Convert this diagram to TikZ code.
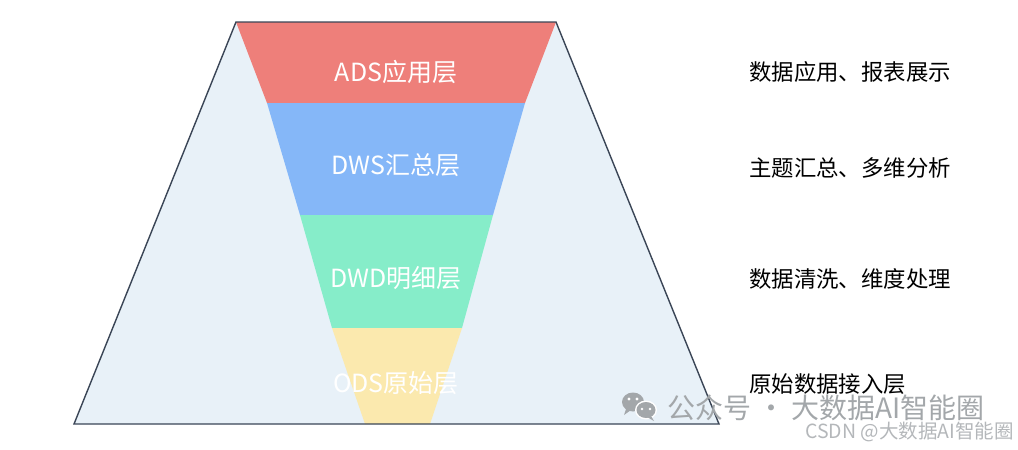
\documentclass[tikz,border=0pt]{standalone}
\usepackage{fontspec}
\setmainfont{Noto Sans CJK SC}
\newfontfamily\cjk{Noto Sans CJK SC}
\definecolor{outerfill}{HTML}{E8F1F8}
\definecolor{outerline}{HTML}{3A4556}
\definecolor{adsred}{HTML}{EE7F7A}
\definecolor{dwsblue}{HTML}{85B7F8}
\definecolor{dwdgreen}{HTML}{86EDC9}
\definecolor{odsyellow}{HTML}{FBE9AE}
\definecolor{wmgray}{HTML}{A3A7AA}
\definecolor{wmgray2}{HTML}{B4B7BA}
\tikzset{
  layerlabel/.style={text=white, font=\cjk\fontsize{25}{28}\selectfont, inner sep=0pt, anchor=center},
  desc/.style={text=black, font=\cjk\fontsize{22.4}{26}\selectfont, inner sep=0pt, anchor=west},
  wm/.style={text=wmgray, font=\cjk\fontsize{28}{31}\selectfont, inner sep=0pt, anchor=west},
  wmsmall/.style={text=wmgray2, font=\cjk\fontsize{19.5}{22}\selectfont, inner sep=0pt, anchor=east},
}
\begin{document}
\begin{tikzpicture}[x=1pt,y=-1pt]
\useasboundingbox (0,0) rectangle (1018,450);
% outer trapezoid
\fill[outerfill] (236,22) -- (556,22) -- (719,424) -- (74,424) -- cycle;
% funnel layers
\fill[adsred]    (236,22)  -- (556,22)  -- (525,103) -- (267,103) -- cycle;
\fill[dwsblue]   (267,103) -- (525,103) -- (493,215) -- (300,215) -- cycle;
\fill[dwdgreen]  (300,215) -- (493,215) -- (462,328) -- (332,328) -- cycle;
\fill[odsyellow] (332,328) -- (462,328) -- (430,424) -- (365,424) -- cycle;
% outline
\draw[outerline, line width=1.4pt, line join=miter] (236,22) -- (556,22) -- (719,424) -- (74,424) -- cycle;
% labels
\node[layerlabel] (ads) at (396,72) {ADS应用层};
\node[layerlabel] (dws) at (396,165) {DWS汇总层};
\node[layerlabel] (dwd) at (396,278) {DWD明细层};
\node[layerlabel] (ods) at (396,383) {ODS原始层};
% descriptions
\node[desc] (d1) at (749,72) {数据应用、报表展示};
\node[desc] (d2) at (749,168) {主题汇总、多维分析};
\node[desc] (d3) at (749,279) {数据清洗、维度处理};
\node[desc] (d4) at (749,384) {原始数据接入层};
% watermark icon
\fill[wmgray] (633,402) ellipse (11 and 9.5);
\fill[wmgray] (626,409) -- (624,415) -- (631,410) -- cycle;
\fill[white] (629,399) circle (1.6);
\fill[white] (637,399) circle (1.6);
\fill[white] (646,410) ellipse (11 and 9.5);
\fill[wmgray] (646,410) ellipse (9.5 and 8);
\fill[wmgray] (651,416) -- (654,421) -- (647,417) -- cycle;
\fill[white] (642,409) circle (1.4);
\fill[white] (650,409) circle (1.4);
\node[wm] (wm1) at (667,408) {公众号 · 大数据AI智能圈};
\node[wmsmall] (wm2) at (1014,432) {CSDN @大数据AI智能圈};
\end{tikzpicture}
\end{document}
